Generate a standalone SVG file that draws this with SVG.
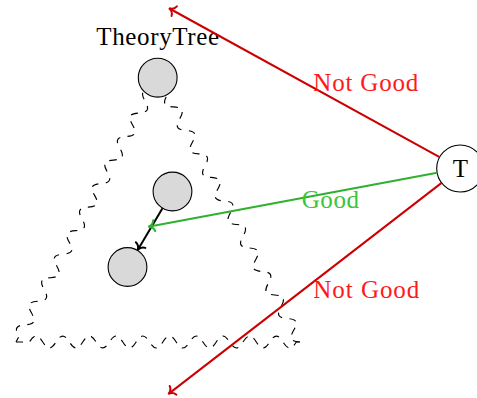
<svg xmlns="http://www.w3.org/2000/svg" width="477" height="398" viewBox="0 0 477 398">
<style>
.snake{fill:none;stroke:#000;stroke-width:1.15;stroke-dasharray:7 7}
.node{fill:#d9d9d9;stroke:#000;stroke-width:1.1}
.tnode{fill:#fff;stroke:#000;stroke-width:1.1}
.lbl{font-family:"Liberation Serif","Times New Roman",serif;font-size:25px}
.red{fill:none;stroke:#cc0000;stroke-width:2}
.grn{fill:none;stroke:#2fb02f;stroke-width:2}
.blk{fill:none;stroke:#000;stroke-width:2}
.redt{fill:#ff1a1a}
.grnt{fill:#3cc43c}
</style>
<defs>
<marker id="ar" markerUnits="userSpaceOnUse" orient="auto" markerWidth="20" markerHeight="20" refX="0" refY="0" viewBox="-10 -10 20 20" overflow="visible">
<path d="M-4.5,-5.5 C-3.8,-2.4 -1.2,-0.5 1.5,0 C-1.2,0.5 -3.8,2.4 -4.5,5.5" fill="none" stroke="#cc0000" stroke-width="2" stroke-linecap="round"/>
</marker>
<marker id="ag" markerUnits="userSpaceOnUse" orient="auto" markerWidth="20" markerHeight="20" refX="0" refY="0" viewBox="-10 -10 20 20" overflow="visible">
<path d="M-4.5,-5.5 C-3.8,-2.4 -1.2,-0.5 1.5,0 C-1.2,0.5 -3.8,2.4 -4.5,5.5" fill="none" stroke="#2fb02f" stroke-width="2" stroke-linecap="round"/>
</marker>
<marker id="ak" markerUnits="userSpaceOnUse" orient="auto" markerWidth="20" markerHeight="20" refX="0" refY="0" viewBox="-10 -10 20 20" overflow="visible">
<path d="M-4.5,-5.5 C-3.8,-2.4 -1.2,-0.5 1.5,0 C-1.2,0.5 -3.8,2.4 -4.5,5.5" fill="none" stroke="#000" stroke-width="2" stroke-linecap="round"/>
</marker>
</defs>
<g id="tree-outline">
<path class="snake" transform="translate(157.7,77.7) rotate(118.2)" d="M0,0 c5.07,-8 8.28,-8 13.35,0 s8.28,8 13.35,0 s8.28,-8 13.35,0 s8.28,8 13.35,0 s8.28,-8 13.35,0 s8.28,8 13.35,0 s8.28,-8 13.35,0 s8.28,8 13.35,0 s8.28,-8 13.35,0 s8.28,8 13.35,0 s8.28,-8 13.35,0 s8.28,8 13.35,0 s8.28,-8 13.35,0 s8.28,8 13.35,0 s8.28,-8 13.35,0 s8.28,8 13.35,0 s8.28,-8 13.35,0 s8.28,8 13.35,0 s8.28,-8 13.35,0 s8.28,8 13.35,0 s8.28,-8 13.35,0 s8.28,8 13.35,0 l6.2,0"/>
<path class="snake" transform="translate(16,342)" d="M0,0 l13.35,0 c5.07,-8 8.28,-8 13.35,0 s8.28,8 13.35,0 s8.28,-8 13.35,0 s8.28,8 13.35,0 s8.28,-8 13.35,0 s8.28,8 13.35,0 s8.28,-8 13.35,0 s8.28,8 13.35,0 s8.28,-8 13.35,0 s8.28,8 13.35,0 s8.28,-8 13.35,0 s8.28,8 13.35,0 s8.28,-8 13.35,0 s8.28,8 13.35,0 s8.28,-8 13.35,0 s8.28,8 13.35,0 s8.28,-8 13.35,0 s8.28,8 13.35,0 s8.28,-8 13.35,0 s8.28,8 13.35,0 l3.65,0"/>
<path class="snake" transform="translate(300,342) rotate(-118.3)" d="M0,0 c5.07,-8 8.28,-8 13.35,0 s8.28,8 13.35,0 s8.28,-8 13.35,0 s8.28,8 13.35,0 s8.28,-8 13.35,0 s8.28,8 13.35,0 s8.28,-8 13.35,0 s8.28,8 13.35,0 s8.28,-8 13.35,0 s8.28,8 13.35,0 s8.28,-8 13.35,0 s8.28,8 13.35,0 s8.28,-8 13.35,0 s8.28,8 13.35,0 s8.28,-8 13.35,0 s8.28,8 13.35,0 s8.28,-8 13.35,0 s8.28,8 13.35,0 s8.28,-8 13.35,0 s8.28,8 13.35,0 s8.28,-8 13.35,0 s8.28,8 13.35,0 l6.5,0"/>
</g>
<g id="node-root">
<circle class="node" cx="157.7" cy="77.7" r="19.4"/>
<text class="lbl" x="157.7" y="45" text-anchor="middle" textLength="123" lengthAdjust="spacing">TheoryTree</text>
</g>
<g id="node-mid">
<circle class="node" cx="172.5" cy="191.5" r="19.4"/>
</g>
<g id="node-leaf">
<circle class="node" cx="127.5" cy="267" r="19.4"/>
</g>
<g id="node-T">
<circle class="tnode" cx="460.2" cy="168.5" r="23.5"/>
<text class="lbl" x="460.3" y="177.3" text-anchor="middle">T</text>
</g>
<g id="connectors">
<line class="blk" x1="162.5" y1="208.3" x2="138.3" y2="248.9" marker-end="url(#ak)"/>
<line class="red" x1="439.6" y1="157.2" x2="170.3" y2="9" marker-end="url(#ar)"/>
<line class="grn" x1="437.1" y1="172.8" x2="149.8" y2="226.4" marker-end="url(#ag)"/>
<line class="red" x1="441.6" y1="182.9" x2="169.5" y2="393.1" marker-end="url(#ar)"/>
<text class="lbl redt" x="313.3" y="90.7" textLength="105" lengthAdjust="spacing">Not Good</text>
<text class="lbl grnt" x="301.7" y="208.3" textLength="57.3" lengthAdjust="spacing">Good</text>
<text class="lbl redt" x="313.3" y="298.3" textLength="106" lengthAdjust="spacing">Not Good</text>
</g>
</svg>
